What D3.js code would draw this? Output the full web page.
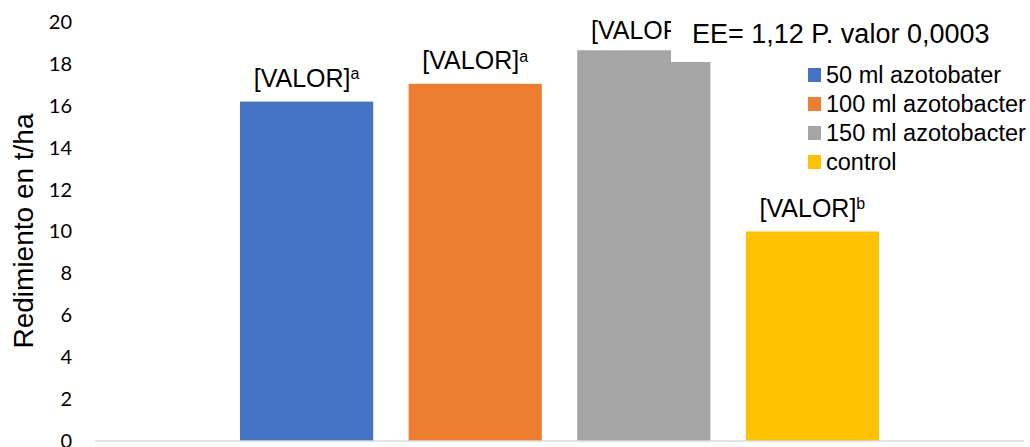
<!DOCTYPE html>
<html>
<head>
<meta charset="utf-8">
<script src="https://cdn.jsdelivr.net/npm/d3@7"></script>
<style>
  body { margin: 0; background: #fff; }
  svg { display: block; }
</style>
</head>
<body>
<div class="canvas"></div>
<script>
// data
const series = ["50 ml azotobater", "100 ml azotobacter", "150 ml azotobacter", "control"];
const values = [16.2, 17.05, 18.65, 10.0];
const letters = ["a", "a", "a", "b"];
const colors = ["#4472c4", "#ed7d31", "#a5a5a5", "#ffc000"];
const yTicks = [0, 2, 4, 6, 8, 10, 12, 14, 16, 18, 20];
const note = "EE= 1,12 P. valor 0,0003";

const svg = d3.select(".canvas")
  .append("svg")
    .attr("width", 1030)
    .attr("height", 447);

// the note box hides everything right of x=671 above y=62
svg.append("clipPath")
    .attr("id", "underNote")
  .append("path")
    .attr("d", "M0,0H671V62H1030V447H0Z");

// scales
const x = d3.scaleBand()
  .domain(series)
  .range([95, 1024])
  .paddingInner(0.21)
  .paddingOuter(0.86);

const y = d3.scaleLinear()
  .domain([0, 20])
  .range([441, 22]);

// y tick labels (no axis line, no gridlines)
const yAxis = svg.append("g")
  .attr("transform", "translate(72,0)")
  .call(d3.axisLeft(y).tickValues(yTicks).tickSize(0).tickPadding(0));
yAxis.select(".domain").remove();
yAxis.selectAll("text")
  .attr("fill", "#000")
  .style("font-family", "Lato, sans-serif")
  .style("font-size", "20px");

// axis title
svg.append("text")
  .attr("transform", `translate(33,${231}) rotate(-90)`)
  .attr("text-anchor", "middle")
  .style("font-family", "'Liberation Sans', Arial, sans-serif")
  .style("font-size", "28px")
  .text("Redimiento en t/ha");

const plot = svg.append("g")
  .attr("clip-path", "url(#underNote)");

// bars
plot.selectAll("rect.bar")
  .data(series)
  .enter()
  .append("rect")
    .attr("class", "bar")
    .attr("x", d => x(d))
    .attr("width", x.bandwidth())
    .attr("y", (d, i) => y(values[i]))
    .attr("height", (d, i) => y(0) - y(values[i]))
    .attr("fill", (d, i) => colors[i]);

// baseline
svg.append("line")
  .attr("x1", 95).attr("x2", 1024)
  .attr("y1", y(0)).attr("y2", y(0))
  .attr("stroke", "#d9d9d9")
  .attr("stroke-width", 1.5);

// value labels
const labels = plot.selectAll("text.lbl")
  .data(series)
  .enter()
  .append("text")
    .attr("class", "lbl")
    .attr("x", d => x(d) + x.bandwidth() / 2)
    .attr("y", (d, i) => Math.max(y(values[i]) - 15, 39))
    .attr("text-anchor", "middle")
    .style("font-family", "'Liberation Sans', Arial, sans-serif")
    .style("font-size", "25px");
labels.append("tspan").text("[VALOR]");
labels.append("tspan")
  .attr("dy", "-0.45em")
  .style("font-size", "16px")
  .text((d, i) => letters[i]);

// note text
svg.append("text")
  .attr("x", 692).attr("y", 43)
  .style("font-family", "'Liberation Sans', Arial, sans-serif")
  .style("font-size", "27px")
  .text(note);

// legend
const legend = svg.selectAll("g.leg")
  .data(series)
  .enter()
  .append("g")
    .attr("class", "leg")
    .attr("transform", (d, i) => `translate(808,${83 + i * 29})`);
legend.append("rect")
  .attr("y", -15)
  .attr("width", 13).attr("height", 14)
  .attr("fill", (d, i) => colors[i]);
legend.append("text")
  .attr("x", 18)
  .style("font-family", "'Liberation Sans', Arial, sans-serif")
  .style("font-size", "23.5px")
  .text(d => d);
</script>
</body>
</html>
